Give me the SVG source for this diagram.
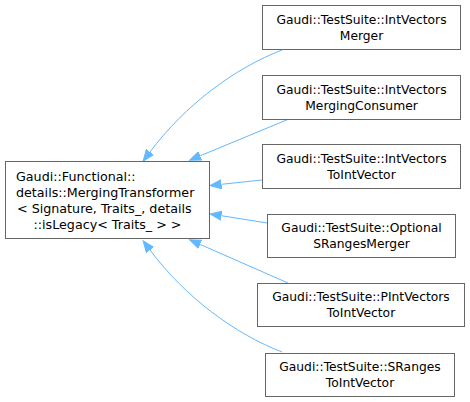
<svg xmlns="http://www.w3.org/2000/svg" width="470" height="402" viewBox="0 0 470 402">
<style>
.box{fill:#ffffff;stroke:#666666;stroke-width:1}
.t{font-family:"DejaVu Sans",sans-serif;font-size:12.3px;fill:#000000}
.b{font-size:12.7px}
.m{text-anchor:middle}
.e{fill:none;stroke:#63b8ff;stroke-width:1}
</style>
<defs>
<marker id="arr" markerWidth="13" markerHeight="11" refX="0" refY="5" orient="auto" markerUnits="userSpaceOnUse">
<path d="M0,0.5 L11.5,5 L0,9.5 Z" fill="#63b8ff" stroke="#63b8ff" stroke-width="1"/>
</marker>
</defs>
<rect width="470" height="402" fill="#ffffff"/>
<g id="edges">
<path class="e" marker-end="url(#arr)" d="M282,50 C235,68 185,105 150,152"/>
<path class="e" marker-end="url(#arr)" d="M289,119 L200.2,155.8"/>
<path class="e" marker-end="url(#arr)" d="M262,180 L221.4,184.3"/>
<path class="e" marker-end="url(#arr)" d="M267,223 L221.4,215.7"/>
<path class="e" marker-end="url(#arr)" d="M288,283 L200.1,244.4"/>
<path class="e" marker-end="url(#arr)" d="M282,352 C235,334 185,297 150,250"/>
</g>
<g id="node_base">
<rect class="box" x="5.5" y="161.5" width="204" height="77"/>
<text class="t b" x="16" y="181">Gaudi::Functional::</text>
<text class="t b" x="16" y="197">details::MergingTransformer</text>
<text class="t b" x="17" y="213">&lt; Signature, Traits_, details</text>
<text class="t b m" x="107.5" y="229">::isLegacy&lt; Traits_ &gt; &gt;</text>
</g>
<g id="node1">
<rect class="box" x="262.5" y="5.5" width="198" height="44"/>
<text class="t m" x="361.5" y="24">Gaudi::TestSuite::IntVectors</text>
<text class="t m" x="361.5" y="40">Merger</text>
</g>
<g id="node2">
<rect class="box" x="262.5" y="75.5" width="198" height="44"/>
<text class="t m" x="361.5" y="94">Gaudi::TestSuite::IntVectors</text>
<text class="t m" x="361.5" y="110">MergingConsumer</text>
</g>
<g id="node3">
<rect class="box" x="262.5" y="144.5" width="198" height="44"/>
<text class="t m" x="361.5" y="163">Gaudi::TestSuite::IntVectors</text>
<text class="t m" x="361.5" y="179">ToIntVector</text>
</g>
<g id="node4">
<rect class="box" x="267.5" y="214.5" width="188" height="43"/>
<text class="t m" x="361.5" y="232">Gaudi::TestSuite::Optional</text>
<text class="t m" x="361.5" y="248">SRangesMerger</text>
</g>
<g id="node5">
<rect class="box" x="257.5" y="283.5" width="207" height="43"/>
<text class="t m" x="361" y="301">Gaudi::TestSuite::PIntVectors</text>
<text class="t m" x="361" y="317">ToIntVector</text>
</g>
<g id="node6">
<rect class="box" x="265.5" y="353.5" width="189" height="43"/>
<text class="t m" x="360" y="371">Gaudi::TestSuite::SRanges</text>
<text class="t m" x="360" y="387">ToIntVector</text>
</g>
</svg>
